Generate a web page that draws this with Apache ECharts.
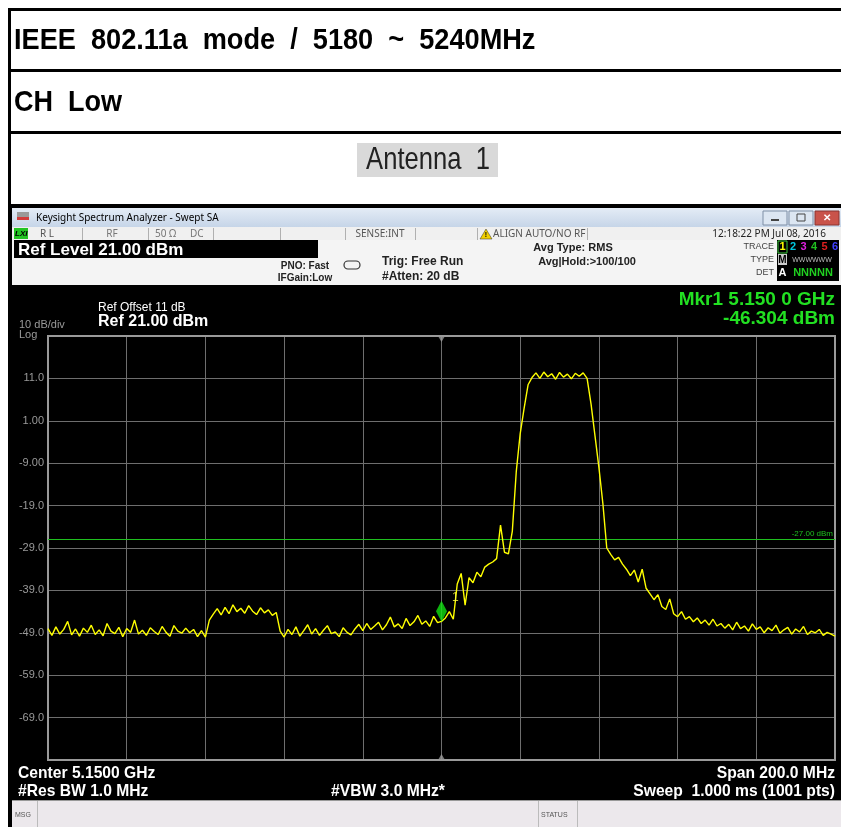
<!DOCTYPE html>
<html><head><meta charset="utf-8">
<script src="https://cdn.jsdelivr.net/npm/echarts@6/dist/echarts.min.js"></script>
<style>html,body{margin:0;padding:0;background:#fff;}#c{width:841px;height:827px;}</style>
</head><body><div id="c"></div>
<script>
// ---- data ----
const startFreqMHz = 5050;   // first sample (MHz)
const stepMHz = 1;           // sample spacing (MHz)
const noiseLeft = [-48.0,-49.6,-47.6,-49.3,-48.2,-46.3,-49.5,-48.1,-49.8,-47.9,-48.9,-47.2,-49.4,-48.3,-49.7,-46.8,-48.6,-49.2,-47.7,-49.9,-48.0,-48.9,-46.0,-49.3,-48.4,-49.6,-47.8,-48.7,-49.4,-47.5,-48.9,-49.8,-47.3,-48.6,-49.1,-47.9,-49.0,-48.2,-49.9,-48.5,-50.0];
const spurBump = [-46.0,-44.6,-43.3,-44.8,-43.0,-44.5,-42.4,-44.0,-43.2,-44.4,-42.6,-43.9,-44.7,-43.1,-44.3,-43.6,-44.9,-44.2];
const noiseMid = [-48.6,-50.0,-48.2,-49.4,-47.6,-49.8,-48.5,-47.1,-49.3,-48.0,-49.6,-48.4,-47.3,-49.2,-48.8,-49.9,-47.8,-48.9,-49.5,-48.1,-47.0,-48.5,-46.8,-48.2,-47.4,-46.5,-48.3,-47.1,-45.3,-47.6,-46.9,-48.0,-45.6,-47.3,-46.4,-44.9,-47.0,-46.2,-47.5,-45.1,-46.6];
const risingEdge = [-46.3,-45.5,-44.0,-45.8,-37.5,-35.0,-42.5,-36.0,-37.2,-34.7,-35.8,-33.5,-32.8,-32.3,-31.5,-23.6,-30.0,-30.4,-25.0,-11.0,-2.0,4.0,9.5];
const channelTop = [11.2,12.3,11.0,12.5,11.4,12.1,10.8,12.4,11.3,12.0,10.9,12.2,11.5,12.3,11.0];
const fallingEdge = [5.0,-2.5,-10.0,-18.4,-29.0,-30.5,-31.8,-31.2,-32.8,-34.0,-35.5,-34.2,-37.0,-34.0,-38.5,-39.8,-41.2,-40.0,-42.8,-43.5,-41.0,-44.5,-45.2,-44.0,-45.8,-45.2,-46.4,-45.5,-46.8,-46.0,-47.2,-45.8,-47.4];
const noiseRight = [-46.8,-47.9,-47.0,-48.3,-46.5,-48.0,-47.4,-48.6,-46.9,-48.2,-47.6,-49.0,-47.8,-48.5,-47.2,-49.1,-48.3,-47.7,-49.3,-48.1,-48.8,-47.5,-49.4,-48.6,-49.0,-48.2,-49.6,-48.9,-49.3,-49.8];
const traceDbm = [].concat(noiseLeft, spurBump, noiseMid, risingEdge, channelTop, fallingEdge, noiseRight);
const markerFreq = 5150;
const markerDbm = -46.304;
const displayLineDbm = -27;
const yTickValues = [11, 1, -9, -19, -29, -39, -49, -59, -69];
const yTickLabels = ['11.0', '1.00', '-9.00', '-19.0', '-29.0', '-39.0', '-49.0', '-59.0', '-69.0'];
const xMin = 5050, xMax = 5250, xStep = 20;
const yMin = -79, yMax = 21, yStep = 10;

const points = traceDbm.map((v, i) => [startFreqMHz + i * stepMHz, v]);
const labelMap = {};
yTickValues.forEach((v, i) => labelMap[v] = yTickLabels[i]);

const F = 'Liberation Sans, Arial, sans-serif';
function rect(x, y, w, h, fill, z, extra) {
  return Object.assign({type: 'rect', z: z == null ? -10 : z, silent: true, shape: {x, y, width: w, height: h}, style: {fill}}, extra || {});
}
function txt(x, y, t, font, fill, align, va, sx) {
  const el = {type: 'text', z: 10, silent: true, style: {x, y, text: t, font, fill, align: align || 'left', verticalAlign: va || 'middle'}};
  if (sx) { el.scaleX = sx; el.originX = x; el.originY = y; }
  return el;
}
const G = [];
// page table
G.push(rect(8, 8, 833, 3, '#000'));
G.push(rect(8, 69, 833, 3, '#000'));
G.push(rect(8, 131, 833, 3, '#000'));
G.push(rect(8, 204, 833, 4, '#000'));
G.push(rect(8, 8, 3, 819, '#000'));
G.push(txt(14, 41, 'IEEE  802.11a  mode  /  5180  ~  5240MHz', 'bold 30px ' + F, '#000', 'left', 'middle', 0.905));
G.push(txt(14, 103, 'CH  Low', 'bold 30px ' + F, '#000', 'left', 'middle', 0.9));
G.push(rect(357, 143, 141, 34, '#d9d9d9'));
G.push(txt(428, 160, 'Antenna  1', '32px ' + F, '#222', 'center', 'middle', 0.8));
// analyzer window
G.push(rect(11, 208, 830, 619, '#000', -12));
G.push(rect(12, 208, 829, 19, '#d3dfee', -11, {style: {fill: new echarts.graphic.LinearGradient(0, 0, 0, 1, [{offset: 0, color: '#e4ecf6'}, {offset: 1, color: '#c6d5e8'}])}}));
G.push(rect(17, 212, 12, 5, '#9a9a9a', -9));
G.push(rect(17, 217, 12, 3, '#d23c3c', -9));
G.push(txt(36, 218, 'Keysight Spectrum Analyzer - Swept SA', '10px Noto Sans, sans-serif', '#000'));
G.push(rect(763, 211, 24, 14, '#dce6f2', -9, {style: {fill: '#dce6f2', stroke: '#7f8fa6', lineWidth: 1}}));
G.push(rect(771, 219, 8, 2, '#444', -8));
G.push(rect(789, 211, 24, 14, '#dce6f2', -9, {style: {fill: '#dce6f2', stroke: '#7f8fa6', lineWidth: 1}}));
G.push(rect(797, 214, 8, 7, '#dce6f2', -8, {style: {fill: 'none', stroke: '#444', lineWidth: 1}}));
G.push(rect(815, 211, 24, 14, '#c9534a', -9, {style: {fill: '#c9534a', stroke: '#8a3530', lineWidth: 1}}));
G.push(txt(827, 218, '✕', 'bold 10px ' + F, '#fff', 'center'));
// status row
G.push(rect(12, 227, 829, 13, '#f0f0f0', -11));
G.push(rect(14, 228, 14, 11, '#22c422', -9));
G.push(txt(15, 234, 'LXI', 'bold italic 8px ' + F, '#000'));
G.push(txt(40, 234, 'R L', '10px Noto Sans, sans-serif', '#555'));
G.push(txt(112, 234, 'RF', '10px Noto Sans, sans-serif', '#777', 'center'));
G.push(txt(155, 234, '50 Ω', '10px Noto Sans, sans-serif', '#777'));
G.push(txt(190, 234, 'DC', '10px Noto Sans, sans-serif', '#777'));
[82, 148, 213, 280, 345, 415, 477, 587].forEach(x => G.push(rect(x, 228, 1, 12, '#b0b0b0', -9)));
G.push(txt(380, 234, 'SENSE:INT', '10px Noto Sans, sans-serif', '#555', 'center'));
G.push({type: 'polygon', z: 5, silent: true, shape: {points: [[486, 229], [480, 239], [492, 239]]}, style: {fill: '#f2d000', stroke: '#333', lineWidth: 0.5}});
G.push(txt(486, 235, '!', 'bold 7px ' + F, '#000', 'center'));
G.push(txt(493, 234, 'ALIGN AUTO/NO RF', '10px Noto Sans, sans-serif', '#555'));
G.push(txt(826, 234, '12:18:22 PM Jul 08, 2016', '10px Noto Sans, sans-serif', '#222', 'right'));
// settings row
G.push(rect(12, 240, 829, 45, '#f4f4f4', -11));
G.push(rect(14, 240, 304, 18, '#000', -9));
G.push(txt(18, 250, 'Ref Level 21.00 dBm', 'bold 17px ' + F, '#fff'));
G.push(txt(305, 266, 'PNO: Fast', 'bold 10px ' + F, '#222', 'center'));
G.push(txt(305, 278, 'IFGain:Low', 'bold 10px ' + F, '#222', 'center'));
G.push({type: 'rect', z: 5, silent: true, shape: {x: 344, y: 261, width: 16, height: 8, r: 4}, style: {fill: 'none', stroke: '#333', lineWidth: 1.2}});
G.push(txt(382, 262, 'Trig: Free Run', 'bold 12px ' + F, '#222'));
G.push(txt(382, 277, '#Atten: 20 dB', 'bold 12px ' + F, '#222'));
G.push(txt(573, 248, 'Avg Type: RMS', 'bold 11px ' + F, '#222', 'center'));
G.push(txt(587, 262, 'Avg|Hold:>100/100', 'bold 11px ' + F, '#222', 'center'));
G.push(txt(774, 247, 'TRACE', '9px ' + F, '#444', 'right'));
G.push(txt(774, 260, 'TYPE', '9px ' + F, '#444', 'right'));
G.push(txt(774, 273, 'DET', '9px ' + F, '#444', 'right'));
G.push(rect(777, 240, 62, 41, '#000', -9));
G.push(rect(778, 241, 9, 12, '#000', -8, {style: {fill: '#000', stroke: '#3ac83a', lineWidth: 1}}));
const tc = ['#ffff00', '#00c8e0', '#e020e0', '#20c020', '#e02020', '#4040ff'];
tc.forEach((c, i) => G.push(txt(782.5 + i * 10.5, 247, String(i + 1), 'bold 11px ' + F, c, 'center')));
G.push(rect(778, 254, 9, 11, '#ccc', -8));
G.push(txt(782.5, 260, 'M', 'bold 10px ' + F, '#000', 'center'));
G.push(txt(812, 260, 'WWWWWW', '7px ' + F, '#bbb', 'center'));
G.push(txt(782.5, 273, 'A', 'bold 11px ' + F, '#fff', 'center'));
G.push(txt(813, 273, 'NNNNN', 'bold 11px ' + F, '#20d020', 'center'));
// display annotations
G.push(txt(98, 308, 'Ref Offset 11 dB', '12px ' + F, '#fff'));
G.push(txt(98, 322, 'Ref 21.00 dBm', 'bold 16px ' + F, '#fff'));
G.push(txt(19, 325, '10 dB/div', '11px ' + F, '#9a9a9a'));
G.push(txt(19, 335, 'Log', '11px ' + F, '#9a9a9a'));
G.push(txt(835, 300, 'Mkr1 5.150 0 GHz', 'bold 19px ' + F, '#22e022', 'right'));
G.push(txt(835, 319, '-46.304 dBm', 'bold 19px ' + F, '#22e022', 'right'));
G.push(txt(18, 773, 'Center 5.1500 GHz', 'bold 17px ' + F, '#fff', 'left', 'middle', 0.92));
G.push(txt(18, 791, '#Res BW 1.0 MHz', 'bold 17px ' + F, '#fff', 'left', 'middle', 0.92));
G.push(txt(388, 791, '#VBW 3.0 MHz*', 'bold 17px ' + F, '#fff', 'center', 'middle', 0.92));
G.push(txt(835, 773, 'Span 200.0 MHz', 'bold 17px ' + F, '#fff', 'right', 'middle', 0.92));
G.push(txt(835, 791, 'Sweep  1.000 ms (1001 pts)', 'bold 17px ' + F, '#fff', 'right', 'middle', 0.92));
// bottom status bar
G.push(rect(12, 800, 829, 27, '#ece8ec', -11));
G.push(rect(12, 800, 829, 1, '#999', -9));
G.push(rect(37, 801, 1, 26, '#bbb', -9));
G.push(rect(538, 801, 1, 26, '#bbb', -9));
G.push(rect(577, 801, 1, 26, '#bbb', -9));
G.push(txt(15, 815, 'MSG', '7px ' + F, '#555'));
G.push(txt(541, 815, 'STATUS', '7px ' + F, '#555'));

const chart = echarts.init(document.getElementById('c'), null, {renderer: 'canvas'});
chart.setOption({
  backgroundColor: '#fff',
  animation: false,
  graphic: {elements: G},
  grid: {left: 48, top: 336, width: 787, height: 424, show: true, backgroundColor: 'transparent', borderColor: '#9a9a9a', borderWidth: 2, z: 1},
  xAxis: {
    type: 'value', min: xMin, max: xMax, interval: xStep,
    axisLine: {show: false}, axisTick: {show: false}, axisLabel: {show: false},
    splitLine: {show: true, lineStyle: {color: '#6e6e6e', width: 1}}
  },
  yAxis: {
    type: 'value', min: yMin, max: yMax, interval: yStep,
    axisLine: {show: false}, axisTick: {show: false},
    axisLabel: {show: true, color: '#9a9a9a', fontSize: 11, fontFamily: F, margin: 4,
      formatter: v => labelMap[Math.round(v)] || ''},
    splitLine: {show: true, lineStyle: {color: '#6e6e6e', width: 1}}
  },
  series: [
    {
      type: 'line', data: points, showSymbol: false, z: 3,
      lineStyle: {color: '#ffff00', width: 1.4}, itemStyle: {color: '#ffff00'},
      markLine: {
        silent: true, symbol: 'none', z: 2,
        lineStyle: {color: '#1fbf1f', width: 1, type: 'solid'},
        label: {show: true, position: 'insideEndTop', formatter: '-27.00 dBm', color: '#1fbf1f', fontSize: 8, fontFamily: F, distance: 2},
        data: [{yAxis: displayLineDbm}]
      }
    },
    {
      type: 'scatter', data: [[markerFreq, markerDbm]], z: 5,
      symbol: 'diamond', symbolSize: [11, 21], symbolOffset: [0, -10],
      itemStyle: {color: '#10e010'},
      label: {show: true, formatter: '1', position: 'right', offset: [0, -14], color: '#ffff40', fontSize: 12, fontFamily: F}
    },
    {
      type: 'scatter', data: [[markerFreq, yMax]], z: 5, symbol: 'triangle', symbolRotate: 180, symbolSize: [7, 6], symbolOffset: [0, 3],
      itemStyle: {color: '#9a9a9a'}
    },
    {
      type: 'scatter', data: [[markerFreq, yMin]], z: 5, symbol: 'triangle', symbolSize: [7, 6], symbolOffset: [0, -3],
      itemStyle: {color: '#9a9a9a'}
    }
  ]
});
</script></body></html>
